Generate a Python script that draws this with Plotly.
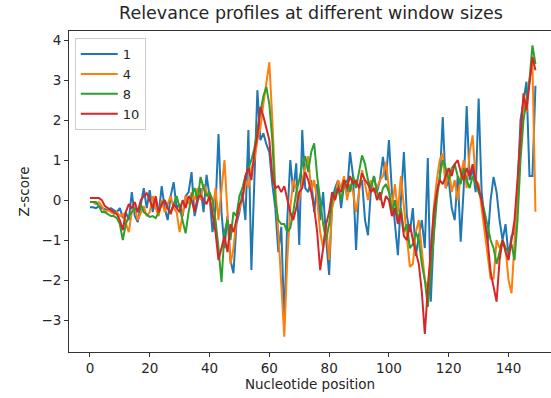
import plotly.graph_objects as go

positions = list(range(150))

z_w1 = [
    -0.18, -0.18, -0.2, -0.15, -0.2, -0.22, -0.25, -0.2, -0.25, -0.3,
    -0.2, -0.45, -0.3, -0.5, 0.2, -0.4, -0.55, -0.1, 0.3, -0.2,
    0.25, -0.3, 0.0, -0.35, 0.35, -0.2, -0.5, 0.1, 0.45, -0.2,
    -0.1, -0.4, 0.1, 0.2, 0.7, -0.4, 0.0, 0.3, -0.3, 0.63,
    0.1, -0.8, -0.2, 1.65, -0.3, -1.2, -0.4, -1.5, -1.83, -0.6,
    -0.3, 0.2, -0.5, 1.75, -1.75, 0.8, 2.75, 1.5, 1.67, 1.4,
    1.2, 0.4, -0.2, -1.3, -0.67, -3.1, -0.5, 1.0, 0.2, 0.92,
    -1.12, 1.75, 0.3, 0.2, 0.5, -0.3, 0.4, -0.5, 0.2, -1.0,
    -1.87, 0.0, 0.3, 0.5, -0.2, 0.4, 0.2, 1.2, 0.6, -1.25,
    0.3, 0.5, -0.5, -0.88, 0.3, 0.6, 0.2, 0.5, 1.08, 0.5,
    1.5, 0.2, -0.6, -1.38, 0.0, 1.2, -0.4, -0.8, -0.2, -1.4,
    -0.9, -0.5, -1.2, 1.05, -2.54, -0.8, 0.3, 0.5, 2.08, 0.3,
    0.5, -0.2, -0.5, 0.6, -1.04, 0.3, 2.35, 0.5, 0.8, 0.2,
    2.54, 0.2, -0.5, -1.04, 0.0, 0.58, 0.2, -0.5, -1.0, -0.6,
    -1.4, -0.9, -0.8, 0.3, 2.0, 2.5, 2.96, 0.6, 0.6, 2.86,
]

z_w4 = [
    -0.05, -0.05, -0.1, -0.05, -0.15, -0.3, -0.25, -0.3, -0.35, -0.3,
    -0.4, -0.35, -0.6, -0.8, -0.3, -0.2, -0.5, -0.3, -0.15, -0.4,
    -0.3, 0.1, -0.2, -0.4, 0.0, -0.3, -0.1, 0.1, -0.2, -0.3,
    -0.8, -0.3, 0.1, -0.1, 0.2, 0.0, 0.3, 0.0, 0.4, 0.2,
    0.0, -0.3, 0.3, -0.5, 0.2, 1.0, -0.3, -1.6, -1.2, -0.5,
    -0.2, 0.0, 0.5, 0.3, 0.8, 1.0, 1.5, 1.8, 2.4, 3.0,
    3.45, 2.0, 0.3, -0.8, -2.0, -3.42, -1.5, -0.2, 0.5, 0.3,
    0.0, 0.5, 0.8, 1.1, 0.2, 0.5, 0.0, -0.8, -1.2, -0.6,
    -1.5, -0.2, 0.1, 0.5, 0.3, 0.6, 0.0, 0.4, 0.2, -0.3,
    0.2, 0.75, 0.4, 0.0, 0.5, 0.2, 0.3, 0.5, 0.6, 0.96,
    0.3, -0.2, 0.4, -0.3, 0.6, -0.1, -0.9, -1.67, -1.6, -0.8,
    -0.5, -1.2, -2.0, -2.2, -1.5, -0.2, 0.5, 1.0, 1.17, 0.3,
    0.8, 0.2, 0.5, 0.0, 0.6, 1.0, 0.3, 1.2, 1.62, 0.5,
    0.4, -0.2, -0.8, -1.5, -1.96, -1.96, -1.0, -1.2, -1.0, -1.2,
    -2.0, -2.33, -1.0, 0.3, 1.5, 2.5, 2.2, 3.0, 3.4, -0.29,
]

z_w8 = [
    -0.05, -0.05, -0.05, -0.15, -0.3, -0.3, -0.35, -0.4, -0.4, -0.45,
    -0.6, -1.0, -0.6, -0.4, -0.3, -0.2, -0.3, -0.1, -0.3, -0.35,
    -0.42, -0.4, -0.45, -0.3, -0.1, 0.0, -0.2, -0.3, -0.1, 0.1,
    -0.2, -0.5, -0.83, -0.3, 0.1, 0.3, 0.0, 0.58, 0.3, 0.1,
    0.2, 0.0, -0.5, -1.2, -2.05, -0.8, -0.5, -1.0, -0.3, -0.4,
    0.1, 0.3, 0.6, 0.8, 1.0, 1.3, 1.8, 2.2, 2.6, 2.83,
    2.4, 1.5, 0.0, -0.5, -0.6, -0.6, -0.8, -0.7, -0.3, 0.2,
    0.5, 0.9, 1.1, 0.7, 1.2, 1.42, 0.6, 0.0, -0.6, -1.0,
    -0.6, 0.0, 0.2, 0.3, 0.0, 0.4, 0.5, 0.2, 0.6, 0.3,
    0.7, 1.12, 0.9, 0.5, 0.3, 0.6, 0.2, 0.0, 0.3, 0.4,
    0.2, -0.3, 0.0, -0.5, -0.2, -0.8, -0.6, -1.2, -1.1, -0.8,
    -1.0, -1.6, -2.0, -2.67, -1.8, -0.8, 0.0, 0.6, 1.0, 0.8,
    0.5, 0.8, 0.9, 0.6, 0.4, 0.8, 0.5, 0.3, 0.6, 0.4,
    0.2, 0.0, -0.3, -0.7, -1.0, -1.2, -1.6, -1.3, -1.0, -1.2,
    -1.3, -1.1, -1.5, -0.5, 1.0, 2.0, 2.5, 3.0, 3.87, 3.4,
]

z_w10 = [
    0.05, 0.05, 0.05, 0.05, 0.0, -0.15, -0.2, -0.25, -0.3, -0.35,
    -0.5, -0.75, -0.3, -0.1, -0.2, -0.05, -0.3, 0.0, 0.1, 0.17,
    0.0, -0.2, 0.1, -0.3, -0.1, 0.0, -0.2, -0.35, -0.1, -0.2,
    -0.3, 0.0, -0.2, 0.1, 0.0, -0.3, 0.05, 0.12, 0.0, -0.1,
    0.1, -0.3, -0.8, -1.5, -1.2, -0.9, -1.3, -0.6, -0.8, -0.5,
    -0.1, 0.0, 0.6, 0.8, 0.5, 1.2, 1.6, 2.33, 2.1, 1.8,
    1.5, 0.6, 0.3, 0.35, 0.2, 0.35, 0.0, -0.3, -0.5, -0.2,
    0.2, 0.3, 0.7, 0.5, 0.2, -0.2, -0.8, -1.75, -1.2, -0.6,
    -0.3, 0.2, 0.0, 0.3, 0.2, 0.5, 0.3, 0.6, 0.4, 0.5,
    0.3, 0.67, 0.5, 0.4, 0.2, 0.3, 0.0, 0.2, -0.2, 0.1,
    0.0, -0.4, -0.2, -0.6, -0.3, -0.9, -1.0, -0.6, -1.0, -1.3,
    -1.6, -2.3, -3.35, -2.2, -1.2, -0.3, 0.2, 0.5, 0.4, 0.6,
    0.8, 0.6, 0.9, 1.0, 0.7, 0.5, 0.8, 0.6, 0.9, 0.5,
    0.3, 0.0, -0.5, -1.0, -1.8, -2.2, -2.54, -1.5, -1.0, -1.3,
    -1.5, -1.0, -0.5, 0.5, 1.5, 2.67, 2.25, 3.0, 3.58, 3.25,
]

series_names = ["1", "4", "8", "10"]
series_values = [z_w1, z_w4, z_w8, z_w10]
series_colors = ["#1f77b4", "#ff7f0e", "#2ca02c", "#d62728"]

fig = go.Figure()
for name, vals, col in zip(series_names, series_values, series_colors):
    fig.add_trace(go.Scatter(x=positions, y=vals, mode="lines", name=name,
                             line=dict(color=col, width=2)))

W, H = 551, 398
L, T, B = 69, 31, 46
font_family = "DejaVu Sans"
axis_col = "#333333"

fig.update_layout(
    width=W, height=H,
    margin=dict(l=L, r=0, t=T, b=B, pad=0),
    paper_bgcolor="white", plot_bgcolor="white",
    font=dict(family=font_family, size=13, color="#262626"),
    title=dict(text="Relevance profiles at different window sizes",
               x=311 / W, xref="container", xanchor="center",
               y=1 - 13 / H, yref="container", yanchor="middle",
               font=dict(size=17.5, color="#262626")),
    showlegend=True,
    legend=dict(x=0.012, y=0.978, xanchor="left", yanchor="top",
                bgcolor="rgba(255,255,255,0.8)", bordercolor="#cccccc",
                borderwidth=1, font=dict(size=13, color="#262626"),
                itemwidth=37, tracegroupgap=0),
    hovermode=False,
)

fig.update_xaxes(range=[-7.0, 154.2], tickmode="array",
                 tickvals=[0, 20, 40, 60, 80, 100, 120, 140],
                 showgrid=False, zeroline=False,
                 showline=True, linecolor=axis_col, linewidth=1, mirror=True,
                 ticks="outside", ticklen=4, tickcolor=axis_col, tickwidth=1,
                 tickfont=dict(size=13.5),
                 title=dict(text="Nucleotide position", font=dict(size=13.5), standoff=3))
fig.update_yaxes(range=[-3.8, 4.23], tickmode="array",
                 tickvals=[-3, -2, -1, 0, 1, 2, 3, 4],
                 ticktext=["\u22123", "\u22122", "\u22121", "0", "1", "2", "3", "4"],
                 showgrid=False, zeroline=False,
                 showline=True, linecolor=axis_col, linewidth=1, mirror=False,
                 ticks="outside", ticklen=4, tickcolor=axis_col, tickwidth=1,
                 tickfont=dict(size=13.5),
                 title=dict(text="Z-score", font=dict(size=13.5), standoff=8))

fig.write_html("out.html", config={"displayModeBar": False})
